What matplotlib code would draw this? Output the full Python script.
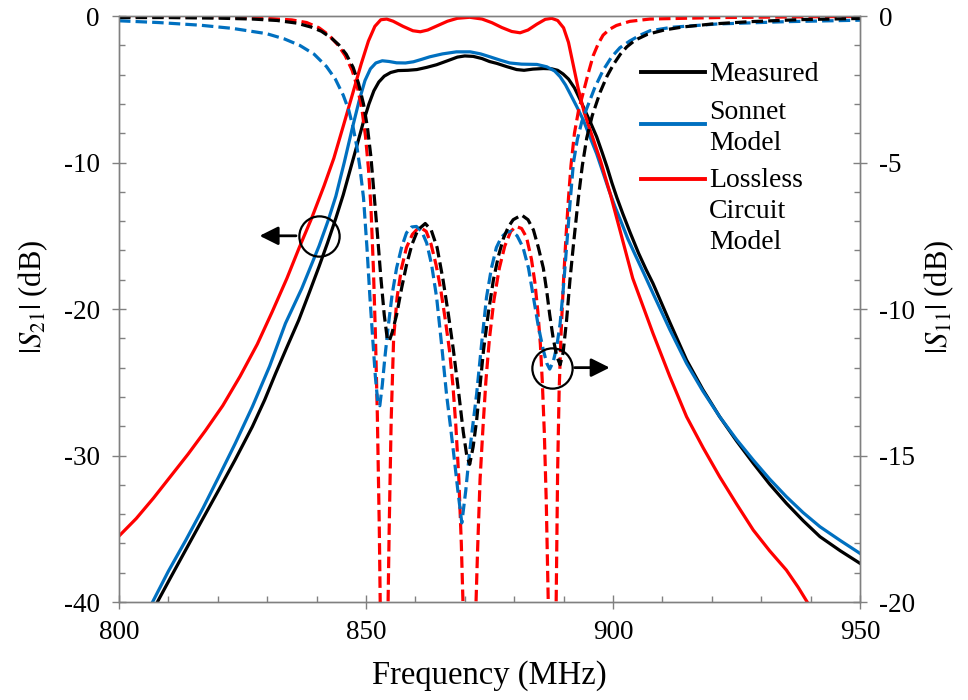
import matplotlib
matplotlib.use("Agg")
import matplotlib.pyplot as plt
from matplotlib.ticker import MultipleLocator

plt.rcParams['font.family'] = ['Liberation Serif', 'DejaVu Serif']
plt.rcParams['mathtext.fontset'] = 'stix'
plt.rcParams['axes.unicode_minus'] = False

# |S21| curves (left axis, dB)
meas_s21_f = [807.3, 810.5, 813.5, 817.0, 820.2, 823.5, 827.0, 829.5, 831.7, 834.0, 836.4, 838.5, 840.5,
              842.2, 843.9, 845.4, 846.8, 848.2, 849.5, 850.6, 851.6, 852.6, 853.7, 855.0, 856.5, 858.5,
              860.3, 862.3, 864.3, 866.5, 868.5, 870.0, 871.7, 873.5, 875.0, 876.5, 878.5, 880.5, 882.0,
              883.8, 885.9, 887.6, 888.8, 889.9, 891.0, 892.2, 893.2, 894.2, 895.5, 896.7, 897.8, 898.8,
              899.8, 900.8, 902.0, 903.5, 905.2, 906.7, 908.1, 911.5, 914.9, 918.2, 921.6, 925.0, 928.4,
              931.7, 935.1, 938.5, 941.9, 946.0, 950.0]
meas_s21 = [-40.3, -38.3, -36.45, -34.3, -32.35, -30.3, -28.03, -26.2, -24.4, -22.6, -20.75, -18.9, -17.1,
            -15.5, -13.8, -12.2, -10.5, -8.8, -7.2, -6.0, -5.1, -4.5, -4.1, -3.85, -3.72, -3.7,
            -3.65, -3.5, -3.32, -3.05, -2.8, -2.72, -2.75, -2.9, -3.1, -3.23, -3.45, -3.65, -3.7,
            -3.62, -3.58, -3.6, -3.7, -3.95, -4.3, -4.9, -5.6, -6.35, -7.3, -8.24, -9.3, -10.3,
            -11.4, -12.4, -13.5, -14.8, -16.2, -17.3, -18.25, -20.9, -23.48, -25.5, -27.35, -29.0, -30.53,
            -31.95, -33.26, -34.45, -35.54, -36.5, -37.36]

sonnet_s21_f = [806.5, 810.0, 813.5, 817.0, 820.2, 823.5, 827.0, 830.5, 833.7, 837.0, 840.5, 842.3, 843.9,
                845.6, 847.2, 848.6, 849.8, 850.9, 852.0, 853.3, 854.7, 856.2, 858.0, 859.6, 861.3, 862.9,
                865.5, 868.3, 871.1, 873.2, 875.1, 877.1, 879.1, 881.5, 884.6, 886.6, 888.2, 889.3, 890.4,
                891.3, 892.7, 894.0, 895.4, 896.7, 898.0, 899.2, 900.4, 901.6, 903.0, 904.5, 906.3, 908.1,
                911.5, 914.9, 918.2, 921.6, 925.0, 928.4, 931.7, 935.1, 938.5, 941.9, 946.0, 950.0]
sonnet_s21 = [-40.2, -37.9, -35.8, -33.6, -31.45, -29.2, -26.67, -23.9, -20.98, -18.6, -15.7, -14.0, -12.3,
              -10.0, -7.7, -5.8, -4.4, -3.6, -3.2, -3.05, -3.1, -3.19, -3.2, -3.12, -2.95, -2.78,
              -2.58, -2.44, -2.44, -2.58, -2.78, -3.0, -3.2, -3.28, -3.3, -3.46, -3.75, -4.14, -4.7,
              -5.28, -6.2, -7.1, -8.3, -9.4, -10.7, -11.9, -13.0, -14.0, -15.2, -16.3, -17.6, -18.93,
              -21.4, -23.71, -25.6, -27.35, -28.9, -30.31, -31.6, -32.81, -33.9, -34.86, -35.8, -36.68]

lossless_s21_f = [800.0, 803.5, 807.0, 810.5, 814.0, 817.5, 821.0, 824.5, 828.0, 831.0, 834.0, 836.5, 839.0,
                  841.5, 843.5, 845.5, 847.3, 849.0, 850.5, 851.8, 853.0, 854.2, 855.5, 857.5, 859.5, 861.0,
                  862.5, 864.5, 866.5, 868.5, 871.0, 873.5, 875.5, 877.5, 879.5, 881.2, 882.8, 884.6, 886.3,
                  887.6, 888.8, 890.0, 891.0, 892.0, 893.0, 894.2, 895.8, 897.5, 899.5, 901.4, 904.0, 908.1,
                  911.5, 914.9, 918.3, 921.6, 925.0, 928.4, 931.7, 935.1, 937.5, 939.5, 941.0]
lossless_s21 = [-35.5, -34.3, -32.9, -31.4, -29.9, -28.3, -26.6, -24.6, -22.4, -20.2, -17.9, -15.8, -13.8,
                -11.6, -9.7, -7.4, -5.3, -3.3, -1.7, -0.7, -0.25, -0.2, -0.35, -0.7, -1.0, -1.07,
                -0.95, -0.65, -0.35, -0.15, -0.08, -0.2, -0.45, -0.78, -1.05, -1.14, -0.95, -0.55, -0.22,
                -0.15, -0.3, -0.8, -1.8, -3.4, -5.0, -6.6, -8.2, -9.9, -12.2, -14.6, -17.9, -21.66,
                -24.6, -27.35, -29.5, -31.45, -33.3, -35.09, -36.5, -37.82, -39.0, -40.1, -41.0]

# |S11| curves (right axis, dB)
meas_s11_f = [800.0, 810.0, 820.0, 827.0, 832.0, 836.0, 839.0, 841.0, 843.0, 844.5, 846.0, 847.4, 848.5,
              849.5, 850.3, 851.0, 851.6, 852.3, 853.0, 853.7, 854.3, 854.7, 855.3, 856.2, 857.2, 858.2,
              859.3, 860.5, 862.0, 863.2, 864.4, 865.6, 866.7, 867.7, 868.8, 869.7, 870.4, 871.0, 871.7,
              872.4, 873.1, 873.8, 874.8, 875.8, 876.8, 877.8, 878.8, 879.8, 881.5, 882.8, 883.9, 884.9,
              885.9, 886.6, 887.2, 887.9, 888.6, 889.3, 889.9, 890.6, 891.3, 892.0, 893.0, 893.8, 894.7,
              895.8, 897.4, 898.8, 900.1, 901.5, 902.8, 904.5, 907.0, 910.5, 914.2, 920.0, 927.7, 938.0,
              950.0]
meas_s11 = [-0.05, -0.05, -0.07, -0.1, -0.15, -0.24, -0.38, -0.52, -0.75, -0.98, -1.3, -1.75, -2.3,
            -3.0, -3.8, -4.8, -6.0, -7.4, -8.9, -10.2, -11.0, -11.1, -10.8, -10.2, -9.3, -8.5,
            -7.8, -7.3, -7.08, -7.3, -7.9, -9.0, -10.2, -11.4, -12.9, -14.2, -15.0, -15.3, -14.7,
            -13.8, -12.6, -11.4, -10.1, -9.0, -8.2, -7.6, -7.2, -6.95, -6.79, -6.95, -7.3, -7.9,
            -8.6, -9.4, -10.2, -11.0, -11.6, -11.9, -11.5, -10.4, -9.0, -7.8, -6.2, -5.1, -4.15,
            -3.4, -2.6, -2.05, -1.65, -1.3, -1.05, -0.82, -0.62, -0.47, -0.37, -0.27, -0.19, -0.12,
            -0.08]

sonnet_s11_f = [800.0, 808.0, 816.4, 823.0, 829.9, 833.5, 836.6, 839.5, 842.0, 843.8, 845.4, 846.5, 847.4,
                848.2, 848.8, 849.5, 850.2, 850.8, 851.4, 851.9, 852.4, 852.8, 853.3, 853.8, 854.5, 855.3,
                856.2, 857.2, 858.2, 859.2, 860.2, 861.3, 862.3, 863.3, 864.3, 865.3, 866.3, 867.1, 867.8,
                868.6, 869.4, 870.2, 870.9, 871.6, 872.4, 873.4, 874.4, 875.4, 876.4, 877.4, 878.5, 879.5,
                880.6, 881.8, 882.9, 883.9, 884.9, 885.9, 886.6, 887.2, 887.9, 888.6, 889.3, 889.9, 890.6,
                891.3, 892.0, 892.8, 893.7, 894.7, 896.3, 898.0, 899.7, 901.4, 903.4, 905.5, 907.5, 912.0,
                921.0, 935.0, 950.0]
sonnet_s11 = [-0.16, -0.22, -0.31, -0.42, -0.6, -0.78, -1.0, -1.3, -1.72, -2.15, -2.7, -3.2, -3.8,
              -4.5, -5.2, -6.2, -7.9, -9.6, -11.1, -12.3, -13.2, -13.3, -12.6, -11.7, -10.6, -9.5,
              -8.6, -7.9, -7.4, -7.2, -7.18, -7.35, -7.75, -8.5, -9.6, -11.2, -12.9, -14.0, -15.0,
              -16.2, -17.3, -16.2, -15.0, -14.0, -12.9, -11.2, -9.6, -8.6, -7.9, -7.55, -7.37, -7.35,
              -7.5, -7.9, -8.6, -9.6, -10.6, -11.4, -11.85, -12.05, -11.8, -11.3, -10.5, -9.4, -7.9,
              -6.4, -5.0, -4.2, -3.6, -3.15, -2.45, -1.85, -1.4, -1.08, -0.85, -0.65, -0.5, -0.38,
              -0.27, -0.19, -0.14]

lossless_s11_f = [800.0, 815.0, 825.0, 831.0, 835.0, 838.0, 840.5, 842.5, 844.3, 845.8, 847.2, 848.3, 849.2,
                  849.9, 850.5, 851.0, 851.5, 851.9, 852.3, 852.7, 853.1, 853.6, 854.3, 854.7, 855.1, 855.6,
                  856.3, 857.2, 858.2, 859.4, 860.4, 861.3, 862.2, 863.2, 864.2, 865.1, 866.0, 866.9, 867.6,
                  868.2, 868.8, 869.3, 869.8, 870.9, 872.1, 872.6, 873.1, 873.7, 874.3, 875.0, 875.9, 877.0,
                  878.1, 879.3, 880.4, 881.5, 882.5, 883.5, 884.2, 884.8, 885.3, 885.7, 886.1, 886.5, 886.9,
                  887.7, 888.5, 888.8, 889.1, 889.5, 890.0, 890.5, 891.0, 891.5, 892.2, 893.0, 894.0, 895.0,
                  896.0, 897.0, 898.0, 899.3, 900.7, 903.4, 907.5, 921.0, 950.0]
lossless_s11 = [-0.01, -0.02, -0.05, -0.09, -0.13, -0.22, -0.4, -0.65, -0.98, -1.35, -1.85, -2.45, -3.2,
                -4.1, -5.2, -6.5, -8.6, -10.8, -13.6, -17.5, -23.0, -40.0, -22.0, -17.5, -13.8, -11.0,
                -9.6, -8.6, -7.9, -7.45, -7.27, -7.25, -7.35, -7.8, -8.5, -9.3, -10.3, -11.4, -12.6,
                -14.0, -15.8, -18.0, -21.0, -40.0, -21.0, -18.2, -15.8, -14.0, -12.4, -11.0, -9.7, -8.6,
                -7.85, -7.35, -7.18, -7.25, -7.55, -8.3, -9.1, -10.1, -11.2, -12.5, -14.2, -16.6, -20.0,
                -40.0, -20.0, -15.5, -12.8, -10.8, -9.0, -7.5, -6.2, -5.1, -4.0, -3.25, -2.6, -1.95,
                -1.35, -0.95, -0.65, -0.45, -0.32, -0.18, -0.1, -0.05, -0.01]

legend_labels = [['Measured'], ['Sonnet', 'Model'], ['Lossless', 'Circuit', 'Model']]

blue = '#0070C0'
red = '#FF0000'
grey = '#808080'
colors = ['black', blue, red]

fig, ax = plt.subplots(figsize=(9.68, 7.0), dpi=100)
fig.subplots_adjust(left=0.1229, right=0.8884, bottom=0.14, top=0.977)
ax2 = ax.twinx()

lw = 2.3
ax.plot(meas_s21_f, meas_s21, color='black', lw=lw)
ax.plot(sonnet_s21_f, sonnet_s21, color=blue, lw=lw)
ax.plot(lossless_s21_f, lossless_s21, color=red, lw=lw)

dash = (0, (3.6, 1.6))
ax2.plot(lossless_s11_f, lossless_s11, color=red, lw=lw, linestyle=dash)
ax2.plot(sonnet_s11_f, sonnet_s11, color=blue, lw=lw, linestyle=dash)
ax2.plot(meas_s11_f, meas_s11, color='black', lw=lw, linestyle=dash)

ax.set_xlim(800, 950)
ax.set_ylim(-40, 0)
ax2.set_ylim(-20, 0)

ax.xaxis.set_major_locator(MultipleLocator(50))
ax.xaxis.set_minor_locator(MultipleLocator(10))
ax.yaxis.set_major_locator(MultipleLocator(10))
ax.yaxis.set_minor_locator(MultipleLocator(2))
ax2.yaxis.set_major_locator(MultipleLocator(5))
ax2.yaxis.set_minor_locator(MultipleLocator(1))

for a in (ax, ax2):
    for s in a.spines.values():
        s.set_color(grey)
        s.set_linewidth(1.0)
    a.tick_params(which='major', direction='inout', length=9.5, width=1.0, color=grey, labelsize=19.5)
    a.tick_params(which='minor', direction='in', length=4.3, width=1.0, color=grey)
ax.tick_params(axis='x', which='major', pad=8)
ax.tick_params(axis='y', which='major', pad=9)
ax2.tick_params(axis='y', which='major', pad=9)
ax.tick_params(top=False, which='both')

ax.set_xlabel('Frequency (MHz)', fontsize=23.5, labelpad=11)
ax.set_ylabel(r'$|S_{21}|$ (dB)', fontsize=22, labelpad=10)
ax2.set_ylabel(r'$|S_{11}|$ (dB)', fontsize=22, labelpad=5)
ax.yaxis.label.set_y(0.52)
ax2.yaxis.label.set_y(0.52)

# circles with arrows pointing to the relevant axis
ax.plot([840.5], [-15.0], marker='o', ms=29, mfc='none', mec='black', mew=1.6)
ax.annotate('', xy=(827.9, -15.0), xytext=(836.4, -15.0),
            arrowprops=dict(arrowstyle='-|>', color='black', lw=2.0, mutation_scale=28))
ax2.plot([887.6], [-12.0], marker='o', ms=29, mfc='none', mec='black', mew=1.6)
ax2.annotate('', xy=(899.9, -12.0), xytext=(891.7, -12.0),
             arrowprops=dict(arrowstyle='-|>', color='black', lw=2.0, mutation_scale=28))

# legend: line beside the first row of each label, rows stacked below
line_y = [0.904, 0.816, 0.722]
row_step = 0.053
for rows, c, yl in zip(legend_labels, colors, line_y):
    ax2.plot([0.704, 0.791], [yl, yl], color=c, lw=2.8, transform=ax2.transAxes, clip_on=False)
    y0 = yl + (0.020 if len(rows) == 2 else -0.003)
    for i, r in enumerate(rows):
        ax2.text(0.796, y0 - i * row_step, r, transform=ax2.transAxes, fontsize=20,
                 ha='left', va='center')

fig.savefig('out.png', dpi=100)
